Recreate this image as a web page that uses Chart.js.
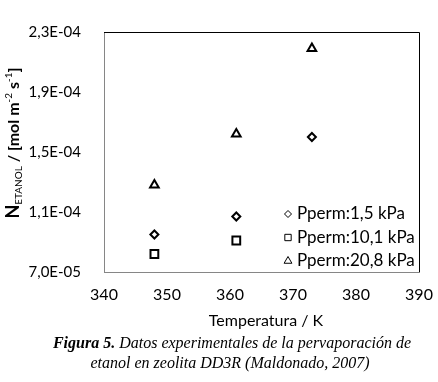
<!DOCTYPE html>
<html>
<head>
<meta charset="utf-8">
<script src="https://cdn.jsdelivr.net/npm/chart.js@4.4.1/dist/chart.umd.min.js"></script>
<style>
  html, body { margin: 0; padding: 0; background: #fff; }
  #wrap { width: 438px; height: 382px; position: relative; }
</style>
</head>
<body>
<div id="wrap"><canvas id="chartFlux"></canvas></div>
<script>
// Flujo de etanol vs temperatura (zeolita DD3R)
const temps15 = [348, 361, 373];
const flux15 = [9.5e-5, 1.07e-4, 1.6e-4];
const temps101 = [348, 361];
const flux101 = [8.2e-5, 9.1e-5];
const temps208 = [348, 361, 373];
const flux208 = [1.28e-4, 1.62e-4, 2.19e-4];
const seriesLabels = ['Pperm:1,5 kPa', 'Pperm:10,1 kPa', 'Pperm:20,8 kPa'];
const xTicks = [340, 350, 360, 370, 380, 390];
const yTicks = [7.0e-5, 1.1e-4, 1.5e-4, 1.9e-4, 2.3e-4];

function fmtExp(v) {
    const e = Math.floor(Math.log10(v) + 1e-9);
    const m = v / Math.pow(10, e);
    return m.toFixed(1).replace('.', ',') + 'E' + (e < 0 ? '-' : '+') + String(Math.abs(e)).padStart(2, '0');
}

function pts(xs, ys) {
    return xs.map((x, i) => ({ x: x, y: ys[i] }));
}

const styles = [
    { pointStyle: 'rectRot', radius: 4 },
    { pointStyle: 'rect', radius: 5.5 },
    { pointStyle: 'triangle', radius: 5 }
];

// legend, axis titles, caption and frame
const extras = {
    id: 'extras',
    afterDraw(chart) {
        const ctx = chart.ctx;
        const a = chart.chartArea;
        ctx.save();

        // black top and right frame lines
        ctx.strokeStyle = '#000';
        ctx.lineWidth = 1;
        ctx.beginPath();
        ctx.moveTo(a.left, a.top + 0.5);
        ctx.lineTo(a.right + 0.5, a.top + 0.5);
        ctx.lineTo(a.right + 0.5, a.bottom);
        ctx.stroke();

        // legend inside the plot
        ctx.font = '17px Lato';
        ctx.textBaseline = 'middle';
        ctx.textAlign = 'left';
        const legSizes = [3.5, 4.5, 4.5];
        seriesLabels.forEach((lab, i) => {
            const y = 214 + i * 23.5;
            ctx.fillStyle = '#fff';
            ctx.strokeStyle = '#000';
            ctx.lineWidth = 1;
            Chart.helpers.drawPoint(ctx, { pointStyle: styles[i].pointStyle, radius: legSizes[i], borderWidth: 1 }, 288, y);
            ctx.fillStyle = '#000';
            ctx.fillText(lab, 297, y);
        });

        // x title
        ctx.font = '16px Lato';
        ctx.textAlign = 'center';
        ctx.fillText('Temperatura / K', 266, 321);

        // y title with sub/superscripts
        const parts = [
            { t: 'N', f: 'bold 18px Lato', dy: 0 },
            { t: 'ETANOL', f: '10px Lato', dy: 3 },
            { t: ' / [mol m', f: 'bold 16px Lato', dy: 0 },
            { t: '-2', f: '10px Lato', dy: -7 },
            { t: ' s', f: 'bold 16px Lato', dy: 0 },
            { t: '-1', f: '10px Lato', dy: -7 },
            { t: ']', f: 'bold 16px Lato', dy: 0 }
        ];
        let total = 0;
        parts.forEach(p => { ctx.font = p.f; p.w = ctx.measureText(p.t).width; total += p.w; });
        ctx.translate(19, 143);
        ctx.rotate(-Math.PI / 2);
        ctx.textAlign = 'left';
        ctx.textBaseline = 'alphabetic';
        let x = -total / 2;
        parts.forEach(p => {
            ctx.font = p.f;
            ctx.fillText(p.t, x, p.dy);
            x += p.w;
        });
        ctx.setTransform(1, 0, 0, 1, 0, 0);

        // caption
        ctx.textBaseline = 'middle';
        ctx.textAlign = 'left';
        const bold = 'Figura 5.';
        const rest = ' Datos experimentales de la pervaporación de';
        ctx.font = 'bold italic 16px "Liberation Serif"';
        const wb = ctx.measureText(bold).width;
        ctx.font = 'italic 16px "Liberation Serif"';
        const wr = ctx.measureText(rest).width;
        let cx = 232 - (wb + wr) / 2;
        ctx.font = 'bold italic 16px "Liberation Serif"';
        ctx.fillText(bold, cx, 344);
        ctx.font = 'italic 16px "Liberation Serif"';
        ctx.fillText(rest, cx + wb, 344);
        ctx.textAlign = 'center';
        ctx.fillText('etanol en zeolita DD3R (Maldonado, 2007)', 230, 364);

        ctx.restore();
    }
};

const ctxFlux = document.getElementById('chartFlux').getContext('2d');
const chartFlux = new Chart(ctxFlux, {
    type: 'scatter',
    data: {
        datasets: [
            { label: seriesLabels[0], data: pts(temps15, flux15) },
            { label: seriesLabels[1], data: pts(temps101, flux101) },
            { label: seriesLabels[2], data: pts(temps208, flux208) }
        ].map((d, i) => Object.assign(d, {
            pointStyle: styles[i].pointStyle,
            pointRadius: styles[i].radius,
            pointHoverRadius: styles[i].radius,
            pointBorderWidth: 2,
            borderColor: '#000',
            backgroundColor: '#fff'
        }))
    },
    options: {
        responsive: true,
        maintainAspectRatio: false,
        animation: false,
        layout: { padding: { left: 0, right: 19, top: 32, bottom: 0 } },
        plugins: {
            legend: { display: false },
            tooltip: { enabled: false }
        },
        scales: {
            x: {
                type: 'linear',
                min: 340,
                max: 390,
                afterBuildTicks: s => { s.ticks = xTicks.map(v => ({ value: v })); },
                afterFit: s => { s.height = 110; },
                grid: { display: false },
                border: { color: '#868686', width: 1 },
                ticks: { font: { family: 'Lato', size: 16 }, color: '#000', padding: 5 }
            },
            y: {
                type: 'linear',
                min: 7e-5,
                max: 2.3e-4,
                afterBuildTicks: s => { s.ticks = yTicks.map(v => ({ value: v })); },
                afterFit: s => { s.width = 104; },
                grid: { display: false },
                border: { color: '#868686', width: 1 },
                ticks: { font: { family: 'Lato', size: 15 }, color: '#000', padding: 15, callback: v => fmtExp(v) }
            }
        }
    },
    plugins: [extras]
});
</script>
</body>
</html>
